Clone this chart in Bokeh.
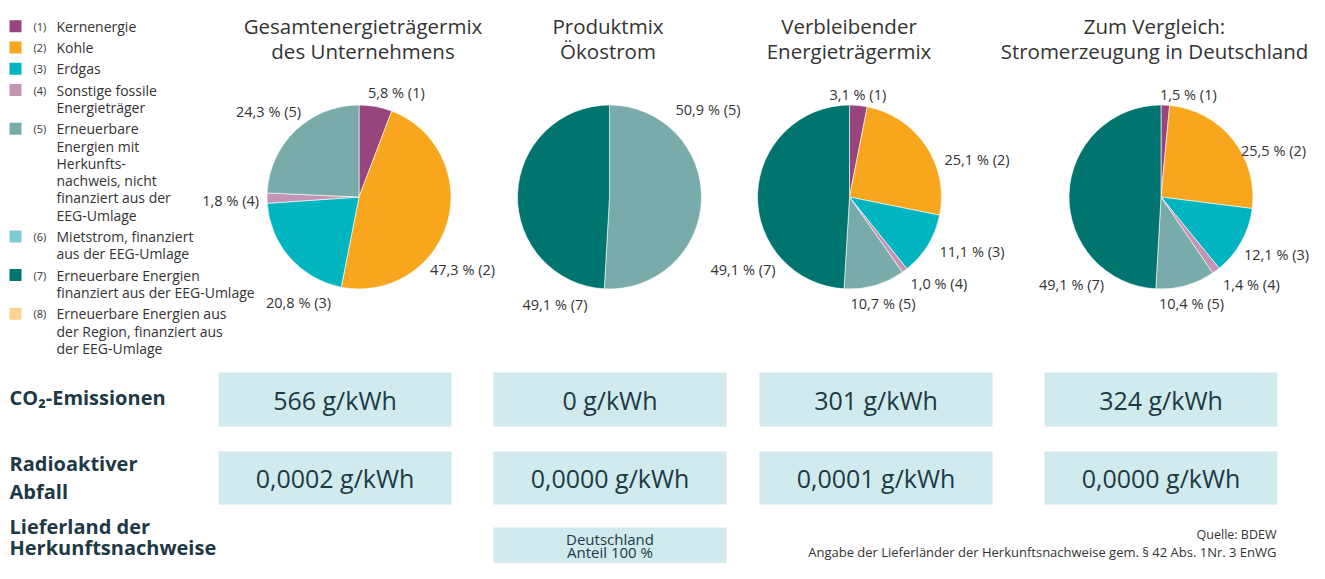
import math
from bokeh.plotting import figure
from bokeh.models import Range1d, ColumnDataSource
from bokeh.core.properties import value
from bokeh.embed import file_html
from bokeh.resources import INLINE

# ---------------- data ----------------
categories = [
    "Kernenergie",
    "Kohle",
    "Erdgas",
    "Sonstige fossile Energieträger",
    "Erneuerbare Energien mit Herkunfts-nachweis, nicht finanziert aus der EEG-Umlage",
    "Mietstrom, finanziert aus der EEG-Umlage",
    "Erneuerbare Energien finanziert aus der EEG-Umlage",
    "Erneuerbare Energien aus der Region, finanziert aus der EEG-Umlage",
]
legend_lines = [
    ["Kernenergie"],
    ["Kohle"],
    ["Erdgas"],
    ["Sonstige fossile", "Energieträger"],
    ["Erneuerbare", "Energien mit", "Herkunfts-", "nachweis, nicht", "finanziert aus der", "EEG-Umlage"],
    ["Mietstrom, finanziert", "aus der EEG-Umlage"],
    ["Erneuerbare Energien", "finanziert aus der EEG-Umlage"],
    ["Erneuerbare Energien aus", "der Region, finanziert aus", "der EEG-Umlage"],
]
colors = ["#99457D", "#F9A61F", "#00B5BF", "#C395B3", "#79ABAB", "#7BCDD3", "#00756F", "#FDD391"]

pie_titles = [
    ["Gesamtenergieträgermix", "des Unternehmens"],
    ["Produktmix", "Ökostrom"],
    ["Verbleibender", "Energieträgermix"],
    ["Zum Vergleich:", "Stromerzeugung in Deutschland"],
]
gesamt = [5.8, 47.3, 20.8, 1.8, 24.3, 0.0, 0.0, 0.0]
produkt = [0.0, 0.0, 0.0, 0.0, 50.9, 0.0, 49.1, 0.0]
verbleibend = [3.1, 25.1, 11.1, 1.0, 10.7, 0.0, 49.1, 0.0]
deutschland = [1.5, 25.5, 12.1, 1.4, 10.4, 0.0, 49.1, 0.0]
mixes = [gesamt, produkt, verbleibend, deutschland]

row_labels = [["CO₂-Emissionen"], ["Radioaktiver", "Abfall"], ["Lieferland der", "Herkunftsnachweise"]]
co2 = [566, 0, 301, 324]
waste = [0.0002, 0.0000, 0.0001, 0.0000]
origin_country = "Deutschland"
origin_share = 100
source_note = "Quelle: BDEW"
law_note = "Angabe der Lieferländer der Herkunftsnachweise gem. § 42 Abs. 1Nr. 3 EnWG"

# ---------------- layout (picture pixels) ----------------
W, H = 1309, 563
FONT = value("Open Sans")
TXT = "#333333"
NAVY = "#1E3945"
BOX = "#D0EAEE"
TOTAL_H = 579

def Y(sy):
    return TOTAL_H - sy

p = figure(width=W, height=H, x_range=Range1d(0, W), y_range=Range1d(TOTAL_H - H, TOTAL_H),
           output_backend="svg", toolbar_location=None, min_border=0,
           min_border_left=0, min_border_right=0, min_border_top=0, min_border_bottom=0)
p.axis.visible = False
p.grid.visible = False
p.outline_line_color = None
p.background_fill_color = "white"

pie_centers = [(358.5, 196.5), (609.0, 196.5), (849.0, 196.5), (1160.5, 196.5)]
title_cx = [362.5, 607.5, 848.5, 1154.0]
R = 92

# label anchor offsets (dx, dy, align) per pie per category index
label_pos = [
    {0: (9, -105, "left"), 1: (71, 72, "left"), 2: (-93, 105, "left"), 3: (-100, 3, "right"), 4: (-58, -86, "right")},
    {4: (66, -88, "left"), 6: (-87, 107, "left")},
    {0: (-20, -103, "left"), 1: (95, -38, "left"), 2: (90, 54, "left"), 3: (61, 86, "left"), 4: (1, 106, "left"), 6: (-74, 72, "right")},
    {0: (-1, -103, "left"), 1: (145, -47, "right"), 2: (83, 57, "left"), 3: (62, 87, "left"), 4: (-2, 106, "left"), 6: (-57, 87, "right")},
]

# pies
for k, mix in enumerate(mixes):
    cx, cy = pie_centers[k]
    total = sum(mix)
    xs, ys, starts, ends, cols = [], [], [], [], []
    cum = 0.0
    for i, v in enumerate(mix):
        if v <= 0:
            continue
        a0 = math.pi / 2 - 2 * math.pi * cum / total
        cum += v
        a1 = math.pi / 2 - 2 * math.pi * cum / total
        xs.append(cx); ys.append(Y(cy)); starts.append(a0); ends.append(a1); cols.append(colors[i])
    src = ColumnDataSource(dict(x=xs, y=ys, s=starts, e=ends, c=cols))
    p.wedge(x="x", y="y", radius=R, radius_units="screen", start_angle="s", end_angle="e",
            direction="clock", fill_color="c", line_color="white", line_width=0.6, source=src)

    # labels
    for align in ("left", "right"):
        lx, ly, lt = [], [], []
        for i, v in enumerate(mix):
            if v <= 0 or i not in label_pos[k]:
                continue
            dx, dy, al = label_pos[k][i]
            if al != align:
                continue
            lx.append(cx + dx); ly.append(Y(cy + dy))
            lt.append(f"{v:.1f}".replace(".", ",") + f" % ({i + 1})")
        if lx:
            p.text(x=lx, y=ly, text=lt, text_align=align, text_baseline="middle",
                   text_font=FONT, text_font_size="14.5px", text_color=TXT)

    # titles
    for j, line in enumerate(pie_titles[k]):
        p.text(x=[title_cx[k]], y=[Y(25 + 25 * j)], text=[line], text_align="center",
               text_baseline="middle", text_font=FONT, text_font_size="20.5px", text_color=TXT)

# legend
ly0 = 25.7
LH = 17.3
for i, lines in enumerate(legend_lines):
    p.rect(x=[15], y=[Y(ly0)], width=12, height=12, fill_color=colors[i], line_color=None)
    p.text(x=[33], y=[Y(ly0)], text=[f"({i + 1})"], text_align="left", text_baseline="middle",
           text_font=FONT, text_font_size="11px", text_color=TXT)
    for j, line in enumerate(lines):
        p.text(x=[56], y=[Y(ly0 + LH * j)], text=[line], text_align="left", text_baseline="middle",
               text_font=FONT, text_font_size="14px", text_color=TXT)
    ly0 += (len(lines) - 1) * LH + 21.3

# bottom table
col_left = [218, 493, 759, 1044]
BW = 233
row_top = [372, 451, 527]
row_bottom = [426, 504, 600]

row_label_y = [[397], [463, 491], [526, 547]]
for r, lines in enumerate(row_labels):
    for j, line in enumerate(lines):
        p.text(x=[9], y=[Y(row_label_y[r][j])], text=[line], text_align="left", text_baseline="middle",
               text_font=FONT, text_font_size="20px", text_font_style="bold", text_color=NAVY)

# boxes rows 1 and 2, row 3 only for the product column
lefts = col_left * 2
rights = [c + BW for c in col_left] * 2
tops = [Y(row_top[0])] * 4 + [Y(row_top[1])] * 4
bottoms = [Y(row_bottom[0])] * 4 + [Y(row_bottom[1])] * 4
p.quad(left=lefts, right=rights, top=tops, bottom=bottoms, fill_color=BOX, line_color=None)
p.quad(left=[col_left[1]], right=[col_left[1] + BW], top=[Y(row_top[2])], bottom=[Y(row_bottom[2])],
       fill_color=BOX, line_color=None)

co2_txt = [f"{v} g/kWh" for v in co2]
waste_txt = [f"{v:.4f}".replace(".", ",") + " g/kWh" for v in waste]
bx = [c + BW / 2 for c in col_left]
p.text(x=bx, y=[Y(399)] * 4, text=co2_txt, text_align="center", text_baseline="middle",
       text_font=FONT, text_font_size="25px", text_color=NAVY)
p.text(x=bx, y=[Y(477)] * 4, text=waste_txt, text_align="center", text_baseline="middle",
       text_font=FONT, text_font_size="25px", text_color=NAVY)
p.text(x=[bx[1], bx[1]], y=[Y(538), Y(551)], text=[origin_country, f"Anteil {origin_share} %"],
       text_align="center", text_baseline="middle", text_font=FONT, text_font_size="15px", text_color=NAVY)

p.text(x=[1276], y=[Y(534)], text=[source_note], text_align="right", text_baseline="middle",
       text_font=FONT, text_font_size="12.5px", text_color=TXT)
p.text(x=[1276], y=[Y(551)], text=[law_note], text_align="right", text_baseline="middle",
       text_font=FONT, text_font_size="13px", text_color=TXT)

open("out.html", "w").write(file_html(p, INLINE))
